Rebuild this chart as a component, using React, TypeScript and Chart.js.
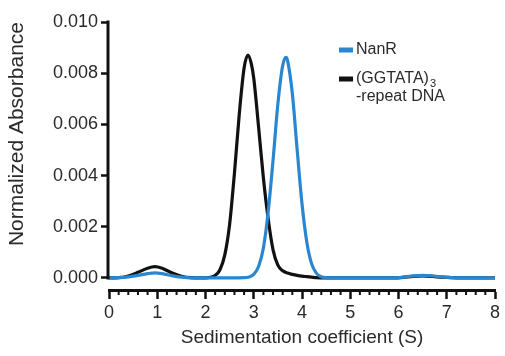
import React, { useEffect, useRef } from "react";
import { Chart, registerables } from "chart.js";

Chart.register(...registerables);

// ---- data ----
const seriesNames = ["NanR", "(GGTATA)3-repeat DNA"];
const legendMain = ["NanR", "(GGTATA)"];
const legendSub = ["", "3"];
const legendSecond = ["", "-repeat DNA"];

const nanrS = [0, 0.2, 0.4, 0.6, 0.8, 0.95, 1.1, 1.3, 1.5, 1.7, 2.0, 2.5, 2.8, 2.9, 3.0, 3.1, 3.2, 3.3, 3.4, 3.5, 3.6, 3.67, 3.7, 3.8, 3.9, 4.0, 4.1, 4.2, 4.3, 4.4, 4.5, 4.7, 5.0, 5.5, 5.9, 6.1, 6.3, 6.5, 6.7, 6.9, 7.1, 7.3, 8.0];
const nanrV = [0, 0.00001, 0.00004, 0.0001, 0.00017, 0.0002, 0.00017, 0.00009, 0.00003, 0, 0, 0, 0.00001, 0.00004, 0.00014, 0.00045, 0.00117, 0.0026, 0.0046, 0.0068, 0.0083, 0.00862, 0.0085, 0.0072, 0.005, 0.0029, 0.0014, 0.00055, 0.00018, 0.00005, 0.00001, 0, 0, 0, 0, 0.00003, 0.00008, 0.0001, 0.00008, 0.00004, 0.00001, 0, 0];

const dnaS = [0, 0.2, 0.4, 0.6, 0.8, 0.95, 1.1, 1.3, 1.5, 1.7, 1.9, 2.0, 2.1, 2.2, 2.3, 2.4, 2.5, 2.6, 2.7, 2.8, 2.88, 2.95, 3.0, 3.1, 3.2, 3.3, 3.4, 3.5, 3.6, 3.7, 3.8, 3.9, 4.0, 4.1, 4.2, 4.3, 4.45, 5.0, 5.9, 6.1, 6.3, 6.5, 6.7, 6.9, 7.1, 7.3, 8.0];
const dnaV = [0, 0.00001, 0.00008, 0.00022, 0.00038, 0.00044, 0.00038, 0.0002, 0.00007, 0.00001, 0, 0, 0.00003, 0.0001, 0.00032, 0.0009, 0.0021, 0.0041, 0.0064, 0.0082, 0.00871, 0.00836, 0.0078, 0.0059, 0.0039, 0.0023, 0.0011, 0.0005, 0.00028, 0.00019, 0.00014, 0.0001, 0.00007, 0.00005, 0.00003, 0.00001, 0, 0, 0, 0.00002, 0.00006, 0.00008, 0.00006, 0.00003, 0.00001, 0, 0];

const xTickValues = [0, 1, 2, 3, 4, 5, 6, 7, 8];
const yTickValues = [0, 0.002, 0.004, 0.006, 0.008, 0.01];

const xTitle = "Sedimentation coefficient (S)";
const yTitle = "Normalized Absorbance";

// ---- styles ----
const BLUE = "#2a87cf";
const BLACK = "#111111";
const TEXT = "#2a2a2a";
const FONT = "'Liberation Sans', Arial, Helvetica, sans-serif";

const decorPlugin = {
  id: "decor",
  afterDraw(chart: any) {
    const { ctx, chartArea, scales } = chart;
    const x = scales.x;
    const y = scales.y;
    ctx.save();
    // y axis line (0 .. 0.010)
    ctx.strokeStyle = BLACK;
    ctx.lineWidth = 3;
    ctx.beginPath();
    const lx = chartArea.left - 1;
    ctx.moveTo(lx, y.getPixelForValue(yTickValues[0]) + 1.5);
    ctx.lineTo(lx, y.getPixelForValue(yTickValues[yTickValues.length - 1]) - 1.5);
    ctx.stroke();
    // minor x ticks
    ctx.lineWidth = 2;
    ctx.beginPath();
    const x0 = xTickValues[0];
    const x1 = xTickValues[xTickValues.length - 1];
    const steps = (x1 - x0) * 5;
    for (let i = 1; i < steps; i++) {
      if (i % 5 === 0) continue;
      const px = x.getPixelForValue(x0 + (i * (x1 - x0)) / steps);
      ctx.moveTo(px, chartArea.bottom);
      ctx.lineTo(px, chartArea.bottom + 5);
    }
    ctx.stroke();
    // legend
    const colors = [BLUE, BLACK];
    const rowY = [50, 79];
    const sx = 339;
    const tx = 356;
    ctx.textBaseline = "middle";
    ctx.textAlign = "left";
    for (let i = 0; i < legendMain.length; i++) {
      ctx.fillStyle = colors[i];
      ctx.fillRect(sx, rowY[i] - 2.5, 14, 5);
      ctx.fillStyle = TEXT;
      ctx.font = `16px ${FONT}`;
      ctx.fillText(legendMain[i], tx, rowY[i]);
      const w = ctx.measureText(legendMain[i]).width;
      if (legendSub[i]) {
        ctx.font = `11px ${FONT}`;
        ctx.fillText(legendSub[i], tx + w + 1, rowY[i] + 5);
      }
      if (legendSecond[i]) {
        ctx.font = `16px ${FONT}`;
        ctx.fillText(legendSecond[i], tx, rowY[i] + 18);
      }
    }
    ctx.restore();
  },
};

export default function App() {
  const ref = useRef<HTMLCanvasElement | null>(null);
  useEffect(() => {
    if (!ref.current) return;
    const chart = new Chart(ref.current, {
      type: "line",
      data: {
        datasets: [
          {
            label: seriesNames[0],
            data: nanrS.map((s, i) => ({ x: s, y: nanrV[i] })),
            borderColor: BLUE,
            borderWidth: 3.2,
            pointRadius: 0,
            cubicInterpolationMode: "monotone",
            fill: false,
            order: 0,
          },
          {
            label: seriesNames[1],
            data: dnaS.map((s, i) => ({ x: s, y: dnaV[i] })),
            borderColor: BLACK,
            borderWidth: 3.2,
            pointRadius: 0,
            cubicInterpolationMode: "monotone",
            fill: false,
            order: 1,
          },
        ],
      },
      options: {
        animation: false,
        responsive: false,
        devicePixelRatio: 1,
        layout: { padding: { top: 22, right: 10, left: 0, bottom: 0 } },
        plugins: { legend: { display: false }, tooltip: { enabled: false } },
        scales: {
          x: {
            type: "linear",
            min: 0,
            max: 8,
            afterBuildTicks: (s: any) => {
              s.ticks = xTickValues.map((v) => ({ value: v }));
            },
            afterFit: (s: any) => {
              s.height = 66;
            },
            ticks: {
              font: { family: FONT, size: 18 },
              color: TEXT,
              padding: 3,
              maxRotation: 0,
              callback: (v: any) => String(v),
            },
            grid: {
              drawOnChartArea: false,
              drawTicks: true,
              tickLength: 9,
              tickWidth: 2.5,
              tickColor: BLACK,
            },
            border: { display: true, width: 3, color: BLACK },
            title: {
              display: true,
              text: xTitle,
              font: { family: FONT, size: 19 },
              color: TEXT,
              padding: { top: 0, bottom: 7 },
            },
          },
          y: {
            type: "linear",
            min: -0.00047,
            max: 0.01,
            afterBuildTicks: (s: any) => {
              s.ticks = yTickValues.map((v) => ({ value: v }));
            },
            afterFit: (s: any) => {
              s.width = 109;
            },
            ticks: {
              font: { family: FONT, size: 18 },
              color: TEXT,
              padding: 3,
              callback: (v: any) => Number(v).toFixed(3),
            },
            grid: {
              drawOnChartArea: false,
              drawTicks: true,
              tickLength: 8,
              tickWidth: 2.5,
              tickColor: BLACK,
            },
            border: { display: false },
            title: {
              display: true,
              text: yTitle,
              align: "end",
              font: { family: FONT, size: 21 },
              color: TEXT,
              padding: { top: 5, bottom: 0 },
            },
          },
        },
      },
      plugins: [decorPlugin],
    } as any);
    return () => chart.destroy();
  }, []);
  return (
    <div style={{ position: "fixed", left: 0, top: 0, width: 505, height: 356, background: "#fff" }}>
      <canvas ref={ref} width={505} height={356} style={{ display: "block" }} />
    </div>
  );
}
